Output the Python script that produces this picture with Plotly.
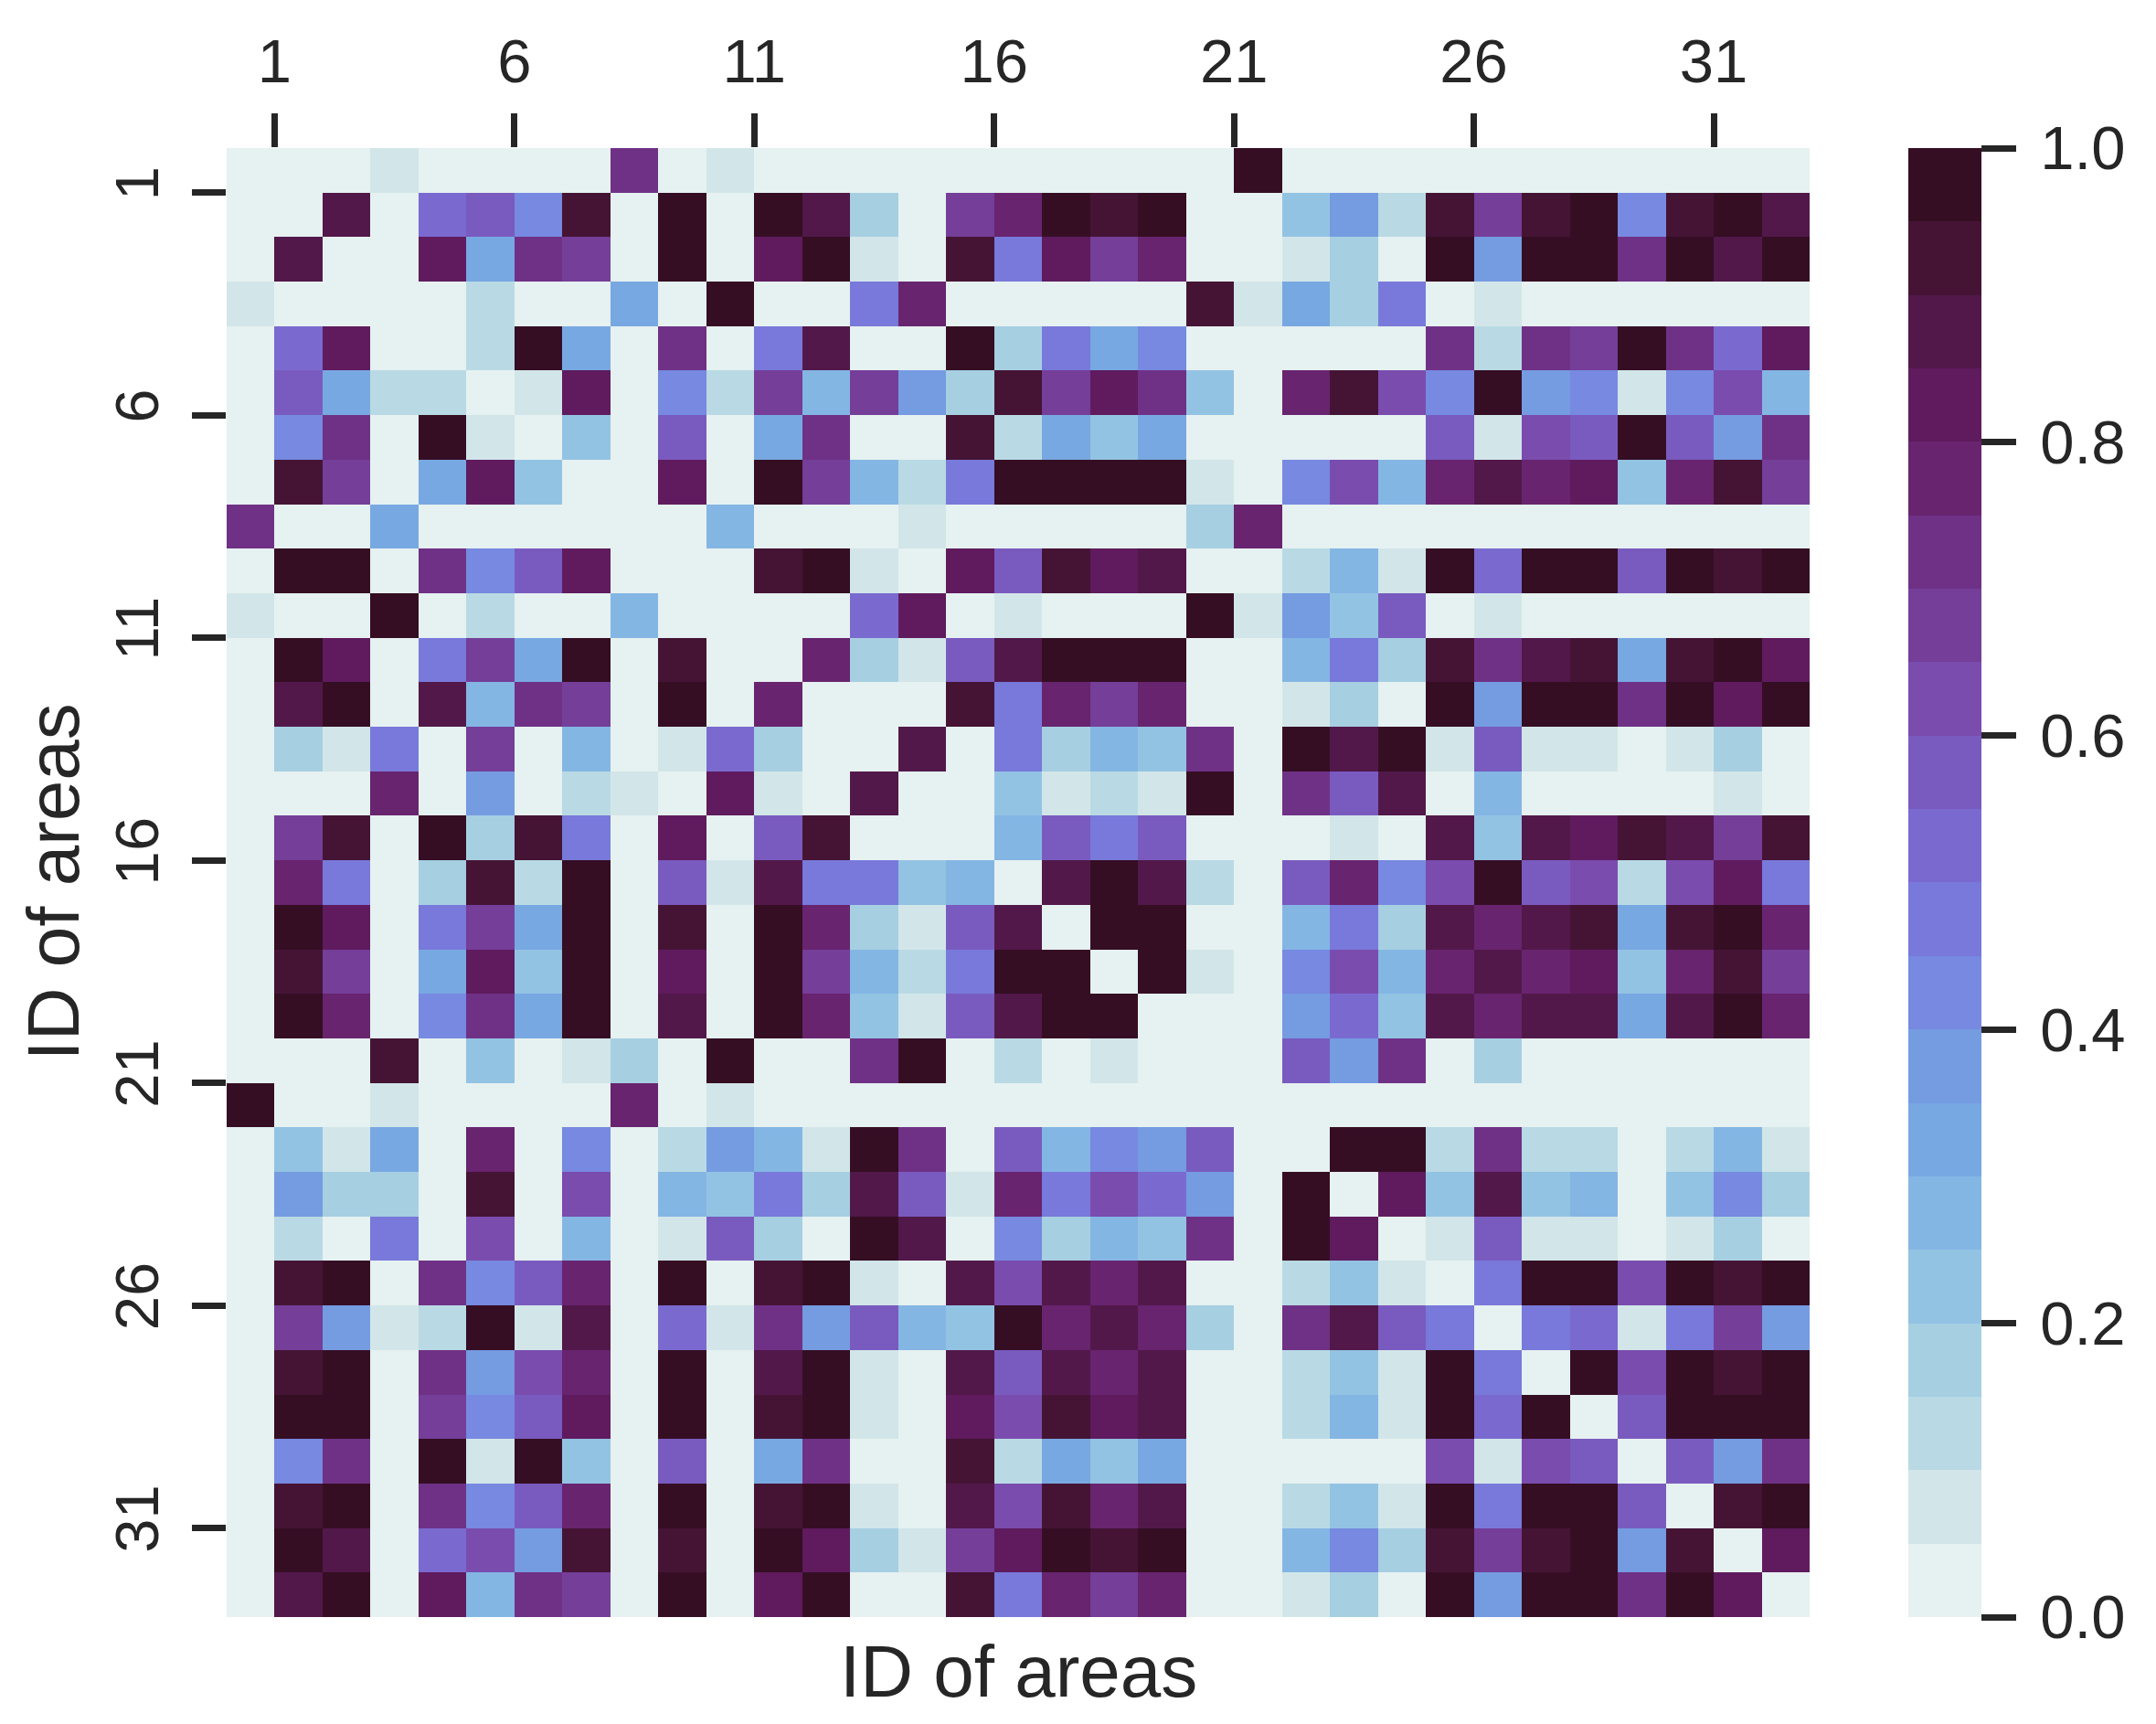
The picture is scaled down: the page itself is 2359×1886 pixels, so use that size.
import plotly.graph_objects as go

# IDs of the 33 areas (rows and columns of the matrix)
area_ids = list(range(1, 34))
tick_ids = [1, 6, 11, 16, 21, 26, 31]
cbar_ticks = [0.0, 0.2, 0.4, 0.6, 0.8, 1.0]

# 20-step colour scale (bottom -> top)
level_colors = ["#e6f1f1", "#d2e6e9", "#b9dae4", "#a6cfe2", "#93c3e3",
                "#84b6e4", "#78a8e2", "#759be1", "#7789e0", "#7879da",
                "#7a6ad0", "#795bbf", "#7a4cae", "#743e99", "#6f3186",
                "#68246f", "#5f1b5e", "#52184a", "#451435", "#350e24"]

# Colour bin (0..19, each 0.05 wide) read for every cell, row by row
bins = [
    [0,0,0,1,0,0,0,0,14,0,1, 0,0,0,0,0,0,0,0,0,0,19, 0,0,0,0,0,0,0,0,0,0,0],
    [0,0,17,0,10,11,8,18,0,19,0, 19,17,3,0,13,15,19,18,19,0,0, 4,7,2,18,13,18,19,8,18,19,17],
    [0,17,0,0,16,6,14,13,0,19,0, 16,19,1,0,18,9,16,13,15,0,0, 1,3,0,19,7,19,19,14,19,17,19],
    [1,0,0,0,0,2,0,0,6,0,19, 0,0,9,15,0,0,0,0,0,18,1, 6,3,9,0,1,0,0,0,0,0,0],
    [0,10,16,0,0,2,19,6,0,14,0, 9,17,0,0,19,3,9,6,8,0,0, 0,0,0,14,2,14,13,19,14,10,16],
    [0,11,6,2,2,0,1,16,0,8,2, 13,5,13,7,3,18,13,16,14,4,0, 15,18,12,8,19,7,8,1,8,12,5],
    [0,8,14,0,19,1,0,4,0,11,0, 6,14,0,0,18,2,6,4,6,0,0, 0,0,0,11,1,12,11,19,11,7,14],
    [0,18,13,0,6,16,4,0,0,16,0, 19,13,5,2,9,19,19,19,19,1,0, 8,12,5,15,17,15,16,4,15,18,13],
    [14,0,0,6,0,0,0,0,0,0,5, 0,0,0,1,0,0,0,0,0,3,15, 0,0,0,0,0,0,0,0,0,0,0],
    [0,19,19,0,14,8,11,16,0,0,0, 18,19,1,0,16,11,18,16,17,0,0, 2,5,1,19,10,19,19,11,19,18,19],
    [1,0,0,19,0,2,0,0,5,0,0, 0,0,10,16,0,1,0,0,0,19,1, 7,4,11,0,1,0,0,0,0,0,0],
    [0,19,16,0,9,13,6,19,0,18,0, 0,15,3,1,11,17,19,19,19,0,0, 5,9,3,18,14,17,18,6,18,19,16],
    [0,17,19,0,17,5,14,13,0,19,0, 15,0,0,0,18,9,15,13,15,0,0, 1,3,0,19,7,19,19,14,19,16,19],
    [0,3,1,9,0,13,0,5,0,1,10, 3,0,0,17,0,9,3,5,4,14,0, 19,17,19,1,11,1,1,0,1,3,0],
    [0,0,0,15,0,7,0,2,1,0,16, 1,0,17,0,0,4,1,2,1,19,0, 14,11,17,0,5,0,0,0,0,1,0],
    [0,13,18,0,19,3,18,9,0,16,0, 11,18,0,0,0,5,11,9,11,0,0, 0,1,0,17,4,17,16,18,17,13,18],
    [0,15,9,0,3,18,2,19,0,11,1, 17,9,9,4,5,0,17,19,17,2,0, 11,15,8,12,19,11,12,2,12,16,9],
    [0,19,16,0,9,13,6,19,0,18,0, 19,15,3,1,11,17,0,19,19,0,0, 5,9,3,17,15,17,18,6,18,19,15],
    [0,18,13,0,6,16,4,19,0,16,0, 19,13,5,2,9,19,19,0,19,1,0, 8,12,5,15,17,15,16,4,15,18,13],
    [0,19,15,0,8,14,6,19,0,17,0, 19,15,4,1,11,17,19,19,0,0,0, 7,10,4,17,15,17,17,6,17,19,15],
    [0,0,0,18,0,4,0,1,3,0,19, 0,0,14,19,0,2,0,1,0,0,0, 11,7,14,0,3,0,0,0,0,0,0],
    [19,0,0,1,0,0,0,0,15,0,1, 0,0,0,0,0,0,0,0,0,0,0, 0,0,0,0,0,0,0,0,0,0,0],
    [0,4,1,6,0,15,0,8,0,2,7, 5,1,19,14,0,11,5,8,7,11,0, 0,19,19,2,14,2,2,0,2,5,1],
    [0,7,3,3,0,18,0,12,0,5,4, 9,3,17,11,1,15,9,12,10,7,0, 19,0,16,4,17,4,5,0,4,8,3],
    [0,2,0,9,0,12,0,5,0,1,11, 3,0,19,17,0,8,3,5,4,14,0, 19,16,0,1,11,1,1,0,1,3,0],
    [0,18,19,0,14,8,11,15,0,19,0, 18,19,1,0,17,12,17,15,17,0,0, 2,4,1,0,9,19,19,12,19,18,19],
    [0,13,7,1,2,19,1,17,0,10,1, 14,7,11,5,4,19,15,17,15,3,0, 14,17,11,9,0,9,10,1,9,13,7],
    [0,18,19,0,14,7,12,15,0,19,0, 17,19,1,0,17,11,17,15,17,0,0, 2,4,1,19,9,0,19,12,19,18,19],
    [0,19,19,0,13,8,11,16,0,19,0, 18,19,1,0,16,12,18,16,17,0,0, 2,5,1,19,10,19,0,11,19,19,19],
    [0,8,14,0,19,1,19,4,0,11,0, 6,14,0,0,18,2,6,4,6,0,0, 0,0,0,12,1,12,11,0,11,7,14],
    [0,18,19,0,14,8,11,15,0,19,0, 18,19,1,0,17,12,18,15,17,0,0, 2,4,1,19,9,19,19,11,0,18,19],
    [0,19,17,0,10,12,7,18,0,18,0, 19,16,3,1,13,16,19,18,19,0,0, 5,8,3,18,13,18,19,7,18,0,16],
    [0,17,19,0,16,5,14,13,0,19,0, 16,19,0,0,18,9,15,13,15,0,0, 1,3,0,19,7,19,19,14,19,16,0],
]

# value at the middle of each colour bin
z = [[(b + 0.5) / 20.0 for b in row] for row in bins]

# stepped colour scale
n = len(level_colors)
colorscale = []
for k, c in enumerate(level_colors):
    colorscale.append([k / n, c])
    colorscale.append([(k + 1) / n, c])

# cell centres sit at 0.5, 1.5, ...; ticks sit at cell edges 1, 6, 11, ...
centers = [i - 0.5 for i in area_ids]

FONT = "Liberation Sans, Arial, sans-serif"
INK = "#262626"
THIN = "\u2009"

# the page body adds an 8 px offset, so the figure is 8 px smaller
W, H = 2351, 1878
ML, MR, MT, MB = 240, 379, 154, 117
plot_w = W - ML - MR
plot_h = H - MT - MB

fig = go.Figure(go.Heatmap(
    z=z, x=centers, y=centers,
    zmin=0, zmax=1,
    colorscale=colorscale,
    xgap=0, ygap=0,
    colorbar=dict(
        x=(2088 - 248) / plot_w, xanchor="left", xpad=0,
        y=0.5, yanchor="middle", len=1.0, lenmode="fraction",
        thickness=80, thicknessmode="pixels", ypad=0,
        outlinewidth=0,
        tickvals=cbar_ticks, ticktext=[THIN + f"{v:.1f}" for v in cbar_ticks],
        ticks="outside", ticklen=38, tickwidth=7, tickcolor=INK,
        tickfont=dict(family=FONT, size=67, color=INK),
    ),
))

fig.update_layout(
    width=W, height=H,
    margin=dict(l=ML, r=MR, t=MT, b=MB),
    paper_bgcolor="white", plot_bgcolor="white",
    font=dict(family=FONT, color=INK),
    xaxis=dict(
        side="top", range=[0, 33], automargin=False,
        tickmode="array", tickvals=tick_ids, ticktext=[str(t) for t in tick_ids],
        ticks="outside", ticklen=37, tickwidth=7, tickcolor=INK,
        tickfont=dict(family=FONT, size=67, color=INK),
        ticklabelstandoff=7,
        showgrid=False, zeroline=False, showline=False,
    ),
    yaxis=dict(
        range=[33, 0], automargin=False,
        tickmode="array", tickvals=tick_ids, ticktext=[str(t) for t in tick_ids],
        ticks="outside", ticklen=37, tickwidth=7, tickcolor=INK,
        tickangle=-90,
        tickfont=dict(family=FONT, size=67, color=INK),
        ticklabelstandoff=10,
        showgrid=False, zeroline=False, showline=False,
    ),
    annotations=[
        dict(text="ID of areas", xref="paper", yref="paper",
             x=0.5, y=-(1828 - 1769) / plot_h, xanchor="center", yanchor="middle",
             showarrow=False, font=dict(family=FONT, size=80, color=INK)),
        dict(text="ID of areas", xref="paper", yref="paper",
             x=(58 - 248) / plot_w, y=0.5, xanchor="center", yanchor="middle",
             textangle=-90, showarrow=False,
             font=dict(family=FONT, size=80, color=INK)),
    ],
)

fig.write_html("out.html")
